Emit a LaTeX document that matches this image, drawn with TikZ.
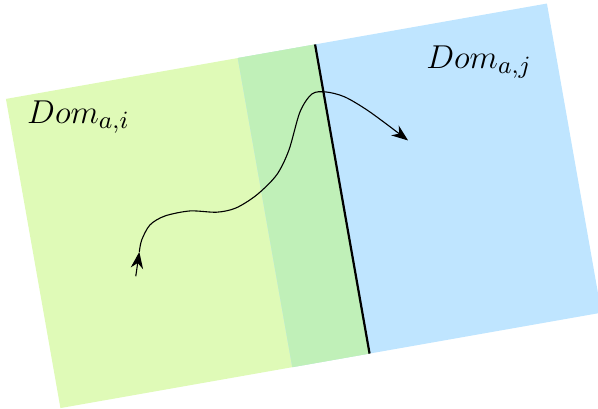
\documentclass[tikz,border=0pt]{standalone}
\usepackage{tikz}
\usetikzlibrary{arrows.meta}
\usepackage{xcolor}
\definecolor{domGreen}  {RGB}{223, 250, 183}
\definecolor{domOverlap}{RGB}{192, 240, 184}
\definecolor{domBlue}   {RGB}{191, 229, 255}

\begin{document}
\begin{tikzpicture}[font=\fontsize{13.2}{16}\selectfont]
  \def\S{4.0}    % side of one domain
  \def\D{3.0}    % shift of the second domain
  \useasboundingbox (-0.77,0) rectangle (6.85,5.20);

  % ---- the two domains, tilted ----
  \begin{scope}[rotate=10]
    \fill[domGreen]   (0,0) rectangle (\S,\S);
    \fill[domBlue]    (\D,0) rectangle ({\D+\S},\S);
    \fill[domOverlap] (\D,0) rectangle (\S,\S);
    % border of Dom_{a,i}
    \draw[thick] (\S,0) -- (\S,\S);
    \node (domi) at (0.87,3.61) {$Dom_{a,i}$};
    \node (domj) at (6.02,3.42) {$Dom_{a,j}$};
  \end{scope}

  % ---- path leaving Dom_{a,i} ----
  \coordinate (pathStart) at (0.96,1.68);
  \coordinate (pathTip)   at (1.005,1.99);
  \coordinate (pathEnd)   at (4.43,3.41);
  \draw[-{Stealth[length=6pt]}] (pathStart) -- (pathTip);
  \draw[-{Stealth[length=6pt]}]
    plot[smooth, tension=0.5] coordinates {(pathTip) (1.036,2.143) (1.141,2.334)
      (1.332,2.448) (1.651,2.512) (1.991,2.496) (2.237,2.550) (2.501,2.716)
      (2.755,2.971) (2.912,3.289) (3.052,3.773) (3.205,4.003) (3.383,4.028)
      (3.625,3.964) (3.944,3.773) (pathEnd)};
\end{tikzpicture}
\end{document}
